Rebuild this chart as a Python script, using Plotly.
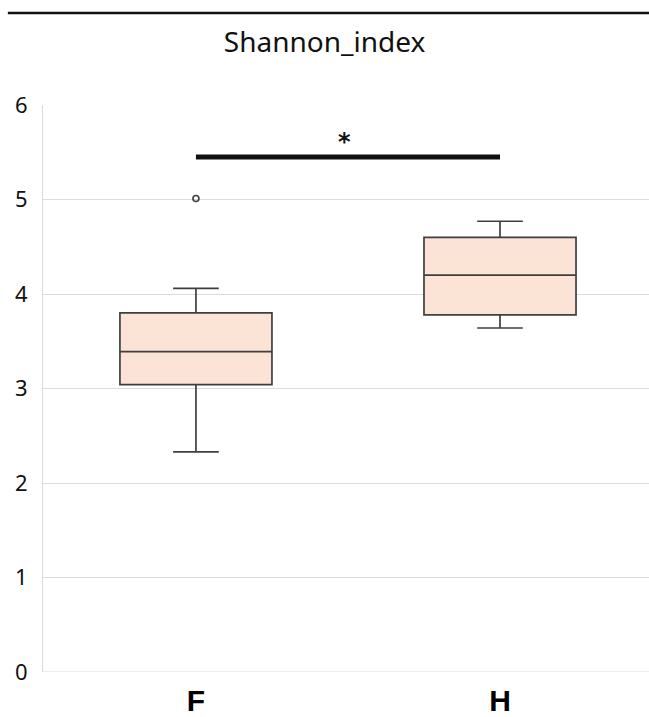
import plotly.graph_objects as go

categories = ["F", "H"]
q1_vals = [3.04, 3.78]
median_vals = [3.39, 4.20]
q3_vals = [3.80, 4.60]
lower_whisker = [2.33, 3.64]
upper_whisker = [4.06, 4.77]
outlier_cat = ["F"]
outlier_vals = [5.01]
sig_y = 5.45
sig_label = "*"
y_ticks = [0, 1, 2, 3, 4, 5, 6]

GRID = "#e0d9d5"

fig = go.Figure()
fig.add_trace(go.Box(
    x=categories,
    q1=q1_vals, median=median_vals, q3=q3_vals,
    lowerfence=lower_whisker, upperfence=upper_whisker,
    fillcolor="#fbe3d6",
    line=dict(color="#3f3f3f", width=1.7),
    whiskerwidth=0.3,
    width=0.5,
    boxpoints=False,
    showlegend=False,
    hoverinfo="skip",
))
fig.add_trace(go.Scatter(
    x=outlier_cat, y=outlier_vals, mode="markers",
    marker=dict(symbol="circle-open", size=6, color="#3f3f3f", line=dict(width=1.6)),
    showlegend=False,
))

# significance bar
fig.add_shape(type="line", xref="x", yref="y", x0=categories[0], x1=categories[1],
              y0=sig_y, y1=sig_y, line=dict(color="#111111", width=5))
fig.add_annotation(x=0.49, y=sig_y, xref="x", yref="y", text=sig_label, showarrow=False,
                   yshift=15, font=dict(size=24, color="#111111", family="DejaVu Sans", weight="bold"))

# top rule
fig.add_shape(type="line", xref="paper", yref="paper", x0=-0.058, x1=1.0, y0=1.1623, y1=1.1623,
              line=dict(color="#111111", width=2.5))

fig.update_layout(
    width=649, height=717,
    margin=dict(l=43, r=0, t=105, b=45),
    paper_bgcolor="white", plot_bgcolor="white",
    title=dict(text="Shannon_index", x=0.5, xanchor="center", y=0.941, yanchor="middle",
               font=dict(family="Noto Sans", size=28, color="#111111")),
    font=dict(family="Noto Sans"),
)
fig.update_xaxes(
    range=[-0.503, 1.49], showgrid=False, zeroline=False, automargin=False,
    showline=False, ticks="", ticklabelstandoff=8,
    tickfont=dict(family="Liberation Sans", size=30, color="#000000", weight="bold"),
)
fig.update_yaxes(
    range=[0, 6], tickvals=y_ticks, showgrid=True, gridcolor=GRID, gridwidth=1.2,
    zeroline=False, showline=True, linecolor=GRID, linewidth=1.2, automargin=False,
    ticks="", ticklabelstandoff=10,
    tickfont=dict(family="Noto Sans", size=22, color="#111111"),
)
fig.add_hline(y=0, line=dict(color=GRID, width=1.2), layer="below")

fig.write_html("out.html", config={"displayModeBar": False},
               post_script="document.body.style.margin='0';document.body.style.overflow='hidden';")
